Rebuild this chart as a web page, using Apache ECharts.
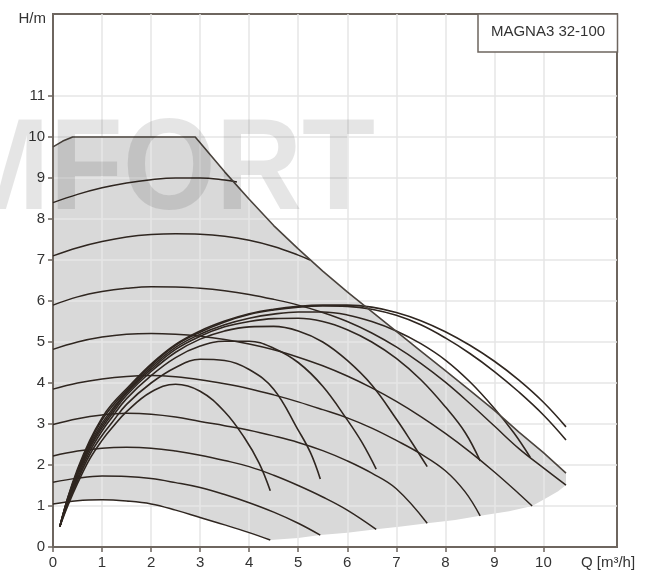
<!DOCTYPE html>
<html>
<head>
<meta charset="utf-8">
<script src="https://cdn.jsdelivr.net/npm/echarts@6/dist/echarts.min.js"></script>
<style>
html,body{margin:0;padding:0;background:#fff;}
#chart{width:649px;height:571px;}
</style>
</head>
<body>
<div id="chart"></div>
<script>
// ---- tick labels ----
const xTicks = [0,1,2,3,4,5,6,7,8,9,10];
const yTicks = [0,1,2,3,4,5,6,7,8,9,10,11];
const modelName = 'MAGNA3 32-100';
const xName = 'Q [m³/h]';
const yName = 'H/m';

// ---- max curve (envelope) ----
const envelope = [[0,9.76],[0.2,9.9],[0.4,10.0],[2.9,10.0],[3.5,9.15],[4,8.48],[4.5,7.84],[5,7.27],[5.5,6.73],[6,6.22],[6.5,5.74],[7,5.26],[7.5,4.78],[8,4.3],[8.5,3.82],[9,3.33],[9.5,2.8],[10,2.3],[10.46,1.8]];

// ---- constant speed curves ----
const c1 = [[0,1.05],[0.5,1.13],[1,1.15],[1.5,1.12],[2,1.05],[2.5,0.9],[3,0.72],[3.5,0.54],[4,0.35],[4.43,0.17]];
const c2 = [[0,1.58],[0.5,1.68],[1,1.73],[1.5,1.72],[2,1.67],[2.5,1.57],[3,1.45],[3.5,1.28],[4,1.08],[4.5,0.85],[5,0.58],[5.45,0.29]];
const c3 = [[0,2.22],[0.5,2.34],[1,2.41],[1.5,2.43],[2,2.41],[2.5,2.34],[3,2.24],[3.5,2.11],[4,1.96],[4.5,1.75],[5,1.5],[5.5,1.22],[6,0.9],[6.59,0.43]];
const c4 = [[0,2.99],[0.5,3.13],[1,3.22],[1.5,3.26],[2,3.24],[2.5,3.17],[3,3.06],[3.5,2.96],[4,2.85],[4.5,2.71],[5,2.55],[5.5,2.35],[6,2.1],[6.5,1.8],[7,1.42],[7.63,0.58]];
const c5 = [[0,3.85],[0.5,4.0],[1,4.1],[1.5,4.16],[2,4.18],[2.5,4.15],[3,4.08],[3.5,3.98],[4,3.86],[4.5,3.71],[5,3.54],[5.5,3.35],[6,3.15],[6.5,2.9],[7,2.6],[7.5,2.27],[8,1.86],[8.4,1.35],[8.71,0.76]];
const c6 = [[0,4.82],[0.5,5.0],[1,5.12],[1.5,5.19],[2,5.21],[2.5,5.19],[3,5.14],[3.5,5.06],[4,4.95],[4.5,4.81],[5,4.63],[5.5,4.42],[6,4.17],[6.5,3.88],[7,3.55],[7.5,3.18],[8,2.77],[8.5,2.32],[9,1.83],[9.5,1.3],[9.77,1.0]];
const c7 = [[0,5.9],[0.5,6.1],[1,6.23],[1.5,6.31],[2,6.35],[2.5,6.34],[3,6.31],[3.5,6.25],[4,6.16],[4.5,6.04],[5,5.9],[5.5,5.72],[6,5.5],[6.5,5.22],[7,4.88],[7.5,4.48],[8,4.02],[8.5,3.5],[9,2.95],[9.5,2.4],[10,1.93],[10.46,1.51]];
const c8 = [[0,7.1],[0.5,7.3],[1,7.45],[1.5,7.56],[2,7.62],[2.5,7.64],[3,7.63],[3.5,7.58],[4,7.48],[4.5,7.33],[5,7.12],[5.24,7.0]];
const c9 = [[0,8.4],[0.5,8.6],[1,8.76],[1.5,8.88],[2,8.96],[2.5,9.0],[3,9.0],[3.5,8.95],[3.75,8.9]];

// ---- control curves (arcs) ----
const a1 = [[0.14,0.5],[0.3,1.0],[0.5,1.55],[0.75,2.15],[1,2.6],[1.2,2.9],[1.5,3.3],[2,3.78],[2.5,3.97],[3,3.8],[3.5,3.3],[3.9,2.67],[4.2,2.05],[4.43,1.37]];
const a2 = [[0.14,0.5],[0.3,1.05],[0.5,1.62],[0.75,2.25],[1,2.72],[1.2,3.03],[1.5,3.48],[2,4.0],[2.5,4.38],[3,4.58],[3.5,4.55],[4,4.33],[4.5,3.85],[5,2.85],[5.25,2.3],[5.45,1.66]];
const a3 = [[0.14,0.5],[0.3,1.1],[0.5,1.68],[0.75,2.33],[1,2.83],[1.2,3.16],[1.5,3.62],[2,4.18],[2.5,4.62],[3,4.9],[3.5,5.02],[4,5.02],[4.5,4.85],[5,4.5],[5.5,3.92],[6,3.1],[6.3,2.55],[6.59,1.9]];
const a4 = [[0.14,0.5],[0.3,1.12],[0.5,1.74],[0.75,2.4],[1,2.9],[1.2,3.24],[1.5,3.7],[2,4.28],[2.5,4.75],[3,5.07],[3.5,5.27],[4,5.37],[4.5,5.38],[5,5.27],[5.5,5.0],[6,4.55],[6.5,3.95],[7,3.12],[7.3,2.58],[7.63,1.96]];
const a5 = [[0.14,0.5],[0.3,1.15],[0.5,1.78],[0.75,2.45],[1,2.96],[1.2,3.3],[1.5,3.75],[2,4.33],[2.5,4.82],[3,5.14],[3.5,5.37],[4,5.5],[4.5,5.57],[5,5.58],[5.5,5.5],[6,5.3],[6.5,5.0],[7,4.6],[7.5,4.08],[8,3.42],[8.4,2.8],[8.71,2.1]];
const a6 = [[0.14,0.5],[0.3,1.17],[0.5,1.82],[0.75,2.5],[1,3.02],[1.2,3.35],[1.5,3.78],[2,4.38],[2.5,4.87],[3,5.19],[3.5,5.42],[4,5.58],[4.5,5.68],[5,5.73],[5.5,5.73],[6,5.66],[6.5,5.5],[7,5.27],[7.5,4.96],[8,4.56],[8.5,4.03],[9,3.38],[9.4,2.78],[9.73,2.19]];
const a7 = [[0.14,0.5],[0.3,1.19],[0.5,1.86],[0.75,2.55],[1,3.1],[1.2,3.42],[1.5,3.82],[2,4.43],[2.5,4.92],[3,5.24],[3.5,5.49],[4,5.67],[4.5,5.78],[5,5.85],[5.5,5.88],[6,5.87],[6.5,5.8],[7,5.65],[7.5,5.42],[8,5.1],[8.5,4.72],[9,4.28],[9.5,3.78],[10,3.22],[10.46,2.61]];
const a8 = [[0.14,0.5],[0.3,1.2],[0.5,1.9],[0.75,2.6],[1,3.15],[1.2,3.48],[1.5,3.86],[2,4.46],[2.5,4.94],[3,5.27],[3.5,5.51],[4,5.69],[4.5,5.8],[5,5.87],[5.5,5.9],[6,5.9],[6.5,5.85],[7,5.72],[7.5,5.52],[8,5.25],[8.5,4.92],[9,4.53],[9.5,4.07],[10,3.53],[10.46,2.93]];

// ---- lower-right boundary of operating area ----
const lowerBoundary = [[4.43,0.17],[5.0,0.22],[5.45,0.29],[6.0,0.35],[6.59,0.43],[7.1,0.5],[7.63,0.58],[8.2,0.66],[8.71,0.76],[9.3,0.87],[9.77,1.0],[10.07,1.2],[10.3,1.36],[10.46,1.51]];

const speedCurves = [c1,c2,c3,c4,c5,c6,c7,c8,c9];
const arcs = [a1,a2,a3,a4,a5,a6,a7,a8];
const fillPolygon = envelope.concat(lowerBoundary.slice().reverse()).concat(c1.slice().reverse());

const FONT = '"Liberation Sans", Arial, sans-serif';
const LINE = '#2f2620';

const chart = echarts.init(document.getElementById('chart'), null, {renderer:'canvas'});

const series = [];
series.push({
  type: 'custom',
  z: 0,
  silent: true,
  data: [[0,0]],
  renderItem: function(params, api){
    const pts = fillPolygon.map(p => api.coord(p));
    return {type:'polygon', shape:{points: pts}, style:{fill:'#d9d9d9'}};
  }
});
speedCurves.forEach(function(d){
  series.push({type:'line', data:d, z:3, symbol:'none', smooth:0.4, silent:true,
    lineStyle:{color:LINE, width:1.5}});
});
arcs.forEach(function(d){
  series.push({type:'line', data:d, z:3, symbol:'none', smooth:0.4, silent:true,
    lineStyle:{color:LINE, width:1.6}});
});
series.push({type:'line', data:envelope, z:3, symbol:'none', smooth:false, silent:true,
  lineStyle:{color:'#4a433d', width:1.6}});

chart.setOption({
  animation: false,
  backgroundColor: '#ffffff',
  grid: {left:53, right:32, top:14, bottom:24, show:true, z:1,
    borderColor:'#6e665f', borderWidth:2, backgroundColor:'transparent'},
  xAxis: {
    type:'value', min:0, max:11.5, interval:1, z:1,
    axisLine:{show:true, onZero:false, lineStyle:{color:'#6e665f', width:2}},
    axisTick:{show:true, length:5, customValues:xTicks, lineStyle:{color:'#6e665f', width:1.5}},
    axisLabel:{customValues:xTicks, margin:8, color:'#333333', fontSize:15, fontFamily:FONT},
    splitLine:{show:true, lineStyle:{color:'#e6e6e6', width:1.5}}
  },
  yAxis: {
    type:'value', min:0, max:13, interval:1, z:1,
    axisLine:{show:true, onZero:false, lineStyle:{color:'#6e665f', width:2}},
    axisTick:{show:true, length:5, customValues:yTicks, lineStyle:{color:'#6e665f', width:1.5}},
    axisLabel:{customValues:yTicks, margin:8, color:'#333333', fontSize:15, fontFamily:FONT},
    splitLine:{show:true, lineStyle:{color:'#e6e6e6', width:1.5}}
  },
  graphic: [
    {type:'text', x:-50, y:173, z:10, scaleX:0.92, silent:true,
      style:{text:'MFORT', font:'bold 130px ' + FONT, fill:'rgba(0,0,0,0.1)', verticalAlign:'middle'}},
    {type:'text', x:46, y:19, z:10,
      style:{text:yName, font:'15px ' + FONT, fill:'#333333', align:'right', verticalAlign:'middle'}},
    {type:'text', x:608, y:563, z:10,
      style:{text:xName, font:'15px ' + FONT, fill:'#333333', align:'center', verticalAlign:'middle'}},
    {type:'rect', x:478, y:14, z:10, shape:{width:139.5, height:38},
      style:{fill:'#ffffff', stroke:'#6e665f', lineWidth:1.5}},
    {type:'text', x:548, y:32, z:11,
      style:{text:modelName, font:'15px ' + FONT, fill:'#333333', align:'center', verticalAlign:'middle'}}
  ],
  series: series
});
</script>
</body>
</html>
